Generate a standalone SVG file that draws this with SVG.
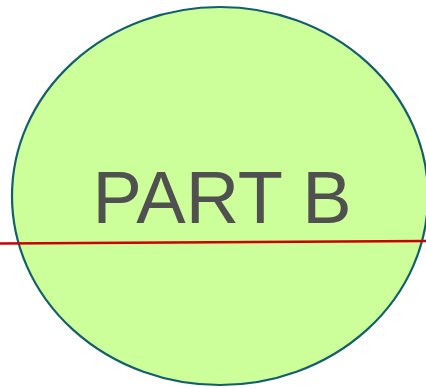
<svg xmlns="http://www.w3.org/2000/svg" width="426" height="388" viewBox="0 0 426 388">
<style>
.part{fill:#ccff99;stroke:#135f6b;stroke-width:2.2}
.lbl{font-family:"Liberation Sans",Arial,sans-serif;font-size:74px;fill:#505050}
.conn{stroke:#cc0000;stroke-width:2.5;fill:none}
</style>
<g id="partB">
<ellipse class="part" cx="220" cy="196" rx="208" ry="189"/>
<text class="lbl" x="222" y="223" text-anchor="middle">PART B</text>
</g>
<g id="connectors">
<line class="conn" x1="0" y1="243.5" x2="426" y2="241"/>
</g>
</svg>
